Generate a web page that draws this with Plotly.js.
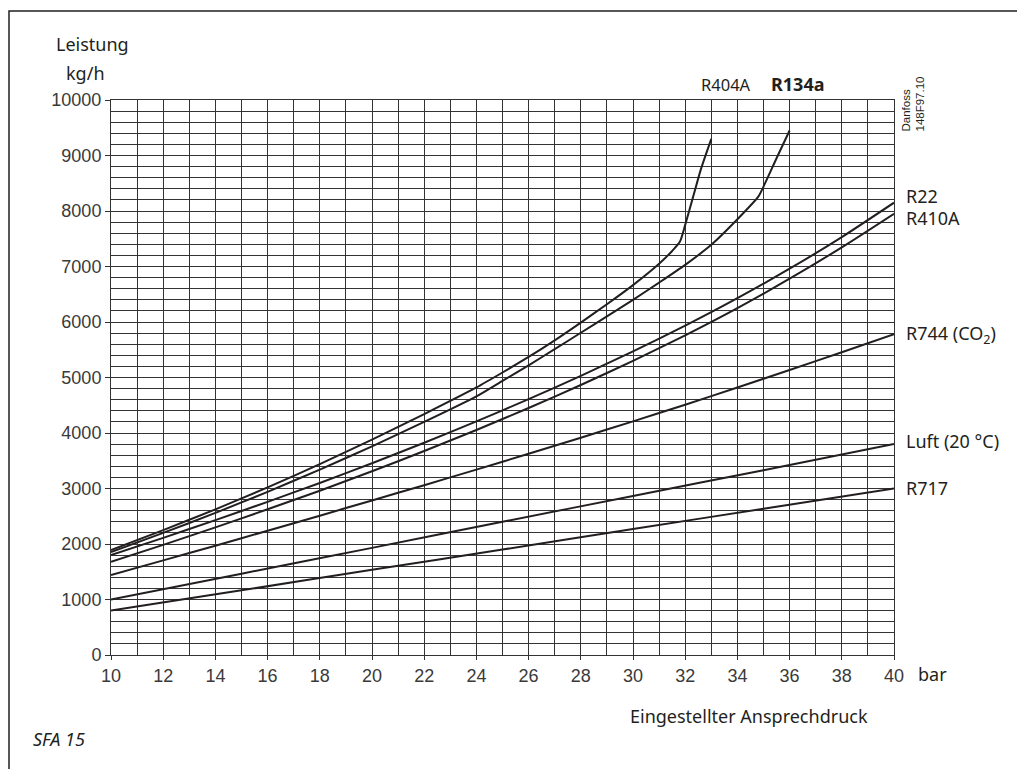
<!DOCTYPE html>
<html>
<head>
<meta charset="utf-8">
<script src="https://cdn.plot.ly/plotly-3.0.1.min.js"></script>
<style>html,body{margin:0;padding:0;background:#fff;}#chart{width:1017px;height:769px;}</style>
</head>
<body>
<div id="chart"></div>
<script>
// Data (pressure in bar, capacity in kg/h)
const r404aX = [10, 12, 14, 16, 18, 20, 22, 24, 25, 26, 27, 28, 29, 30, 31, 31.5, 31.8, 32, 32.3, 32.6, 33];
const r404aY = [1890, 2250, 2625, 3020, 3440, 3880, 4340, 4820, 5090, 5370, 5670, 5990, 6320, 6665, 7050, 7280, 7450, 7750, 8250, 8750, 9300];

const r134aX = [10, 12, 14, 16, 18, 20, 22, 24, 25, 26, 27, 28, 29, 30, 31, 32, 33, 34, 34.8, 35, 35.5, 36];
const r134aY = [1855, 2200, 2560, 2940, 3340, 3760, 4200, 4660, 4940, 5220, 5510, 5806, 6100, 6400, 6710, 7030, 7390, 7850, 8258, 8440, 8950, 9450];

const r22X = [10, 12, 14, 16, 18, 20, 22, 24, 26, 28, 30, 32, 34, 36, 38, 40];
const r22Y = [1800, 2110, 2430, 2760, 3100, 3455, 3825, 4210, 4610, 5030, 5470, 5935, 6430, 6960, 7530, 8150];

const r410aX = [10, 12, 14, 16, 18, 20, 22, 24, 26, 28, 30, 32, 34, 36, 38, 40];
const r410aY = [1680, 1985, 2300, 2625, 2960, 3310, 3675, 4055, 4450, 4865, 5300, 5760, 6250, 6780, 7345, 7950];

const r744X = [10, 12, 14, 16, 18, 20, 22, 24, 26, 28, 30, 32, 34, 36, 38, 40];
const r744Y = [1440, 1705, 1970, 2240, 2510, 2785, 3060, 3340, 3625, 3915, 4210, 4510, 4820, 5135, 5455, 5780];

const luftX = [10, 15, 20, 25, 30, 35, 40];
const luftY = [1000, 1465, 1930, 2400, 2865, 3330, 3800];

const r717X = [10, 15, 20, 25, 30, 35, 40];
const r717Y = [800, 1165, 1535, 1900, 2270, 2635, 3000];

const xTickVals = [10, 12, 14, 16, 18, 20, 22, 24, 26, 28, 30, 32, 34, 36, 38, 40];
const xTickText = ['10', '12', '14', '16', '18', '20', '22', '24', '26', '28', '30', '32', '34', '36', '38', '40'];
const yTickVals = [0, 1000, 2000, 3000, 4000, 5000, 6000, 7000, 8000, 9000, 10000];
const yTickText = ['0', '1000', '2000', '3000', '4000', '5000', '6000', '7000', '8000', '9000', '10000'];

const seriesNames = ['R404A', 'R134a', 'R22', 'R410A', 'R744 (CO₂)', 'Luft (20 °C)', 'R717'];

// ---- layout helpers ----
const L = 111, R = 894, T = 100, B = 655;
const px = x => (x - L) / (R - L);
const py = y => (B - y) / (B - T);

const lineStyle = {color: '#231f20', width: 2, shape: 'spline', smoothing: 0.6};
const mk = (x, y, name) => ({x: x, y: y, name: name, type: 'scatter', mode: 'lines', line: lineStyle});

const data = [
  mk(r404aX, r404aY, seriesNames[0]),
  mk(r134aX, r134aY, seriesNames[1]),
  mk(r22X, r22Y, seriesNames[2]),
  mk(r410aX, r410aY, seriesNames[3]),
  mk(r744X, r744Y, seriesNames[4]),
  mk(luftX, luftY, seriesNames[5]),
  mk(r717X, r717Y, seriesNames[6])
];

const FAM = 'Noto Sans, Open Sans, sans-serif';
const labelFont = {family: FAM, size: 18, color: '#231f20'};
const ann = (text, x, y, opts) => Object.assign({
  text: text, xref: 'paper', yref: 'paper', x: px(x), y: py(y),
  xanchor: 'left', yanchor: 'middle', showarrow: false, font: labelFont
}, opts || {});

const annotations = [
  ann('Leistung', 54, 44),
  ann('kg/h', 64, 73),
  ann(seriesNames[0], 699, 84, {font: {family: FAM, size: 16.5, color: '#231f20'}}),
  ann('<b>' + seriesNames[1] + '</b>', 769, 84, {font: {family: FAM, size: 18, color: '#231f20'}}),
  ann('Danfoss<br>148F97.10', 912.5, 104, {xanchor: 'center', textangle: -90, align: 'left',
      font: {family: 'Liberation Sans, Arial, sans-serif', size: 11.5, color: '#231f20'}}),
  ann(seriesNames[2], 904, 196),
  ann(seriesNames[3], 904, 218),
  ann('R744 (CO<sub>2</sub>)', 904, 334),
  ann(seriesNames[5], 904, 441),
  ann(seriesNames[6], 904, 488),
  ann('bar', 916, 674),
  ann('Eingestellter Ansprechdruck', 628, 716),
  ann('<i>SFA 15</i>', 31, 739)
];

const tickFont = {family: 'Liberation Sans, Arial, sans-serif', size: 18, color: '#3a3a3a'};

const layout = {
  width: 1017, height: 769,
  margin: {l: L, r: 1017 - R, t: T, b: 769 - B, pad: 0},
  paper_bgcolor: '#ffffff', plot_bgcolor: '#ffffff',
  showlegend: false,
  xaxis: {
    range: [10, 40], tickvals: xTickVals, ticktext: xTickText, ticks: 'outside', ticklen: 4, tickcolor: '#333',
    tickfont: tickFont,
    showgrid: true, gridcolor: '#333', gridwidth: 1,
    minor: {dtick: 1, showgrid: true, gridcolor: '#333', gridwidth: 1},
    showline: true, linecolor: '#333', linewidth: 1, mirror: true,
    zeroline: false, fixedrange: true
  },
  yaxis: {
    range: [0, 10000], tickvals: yTickVals, ticktext: yTickText, ticks: 'outside', ticklen: 5, tickcolor: '#333',
    tickfont: tickFont,
    showgrid: true, gridcolor: '#333', gridwidth: 1,
    minor: {dtick: 200, showgrid: true, gridcolor: '#333', gridwidth: 1},
    showline: true, linecolor: '#333', linewidth: 1, mirror: true,
    zeroline: false, fixedrange: true
  },
  shapes: [{
    type: 'rect', xref: 'paper', yref: 'paper',
    x0: px(9), x1: px(1030), y0: py(780), y1: py(11),
    line: {color: '#231f20', width: 1.5}, fillcolor: 'rgba(0,0,0,0)', layer: 'below'
  }],
  annotations: annotations
};

Plotly.newPlot('chart', data, layout, {displayModeBar: false, staticPlot: true});
</script>
</body>
</html>
